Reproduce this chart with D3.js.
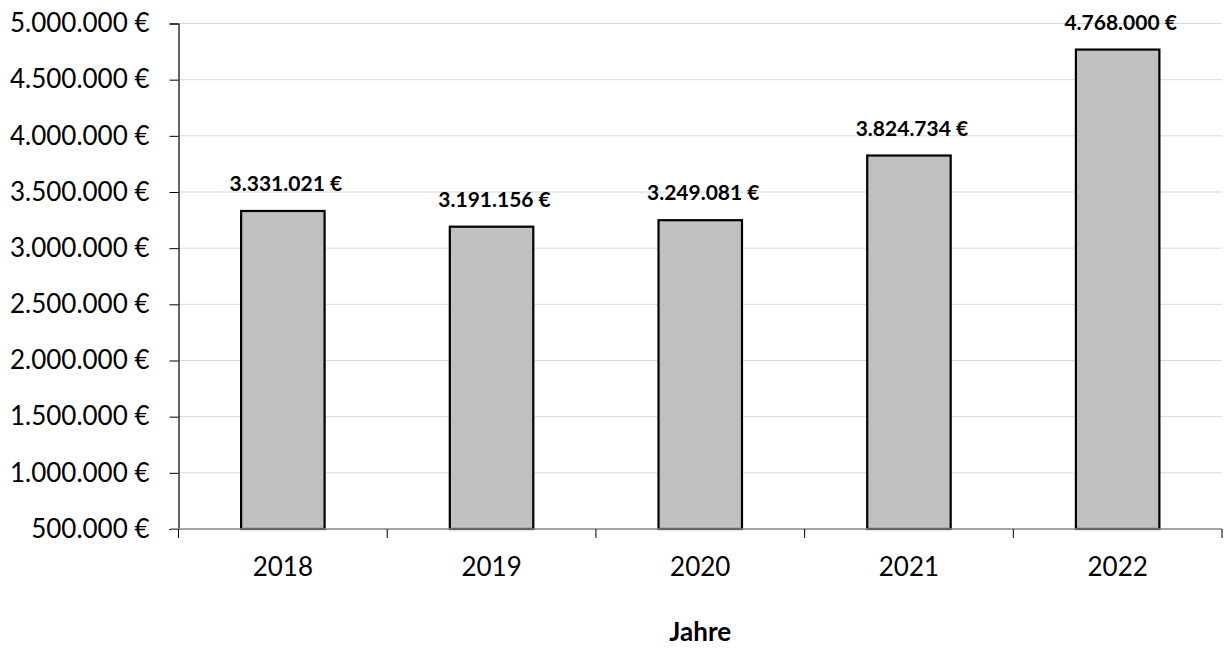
<!DOCTYPE html>
<html><head><meta charset="utf-8">
<script src="https://cdn.jsdelivr.net/npm/d3@7"></script>
<style>body{margin:0;background:#fff;} text{font-family:Lato,"Open Sans",sans-serif;}</style>
</head><body>
<svg id="c" width="1227" height="648"></svg>
<script>
const years = ["2018","2019","2020","2021","2022"];
const values = [3331021, 3191156, 3249081, 3824734, 4768000];
const yTicks = [500000,1000000,1500000,2000000,2500000,3000000,3500000,4000000,4500000,5000000];
const xTitle = "Jahre";

const svg = d3.select("#c");
const L = 178.5, R = 1222, T = 23.5, B = 529;
const fmt = v => d3.format(",")(v).replace(/,/g, ".") + " €";

const x = d3.scaleBand().domain(years).range([L, R]).paddingInner(0).paddingOuter(0);
const y = d3.scaleLinear().domain([500000, 5000000]).range([B, T]);

// gridlines
svg.append("g").selectAll("line").data(yTicks.slice(1)).join("line")
  .attr("x1", L).attr("x2", R).attr("y1", d => y(d)).attr("y2", d => y(d))
  .attr("stroke", "#d9d9d9").attr("stroke-width", 1);

// y axis
const ya = svg.append("g").attr("transform", `translate(${L},0)`)
  .call(d3.axisLeft(y).tickValues(yTicks).tickSize(9).tickPadding(20).tickFormat(fmt));
ya.select(".domain").attr("stroke", "#000").attr("stroke-width", 1.2);
ya.selectAll(".tick line").attr("stroke", "#000");
ya.selectAll("text").attr("font-size", 26).attr("fill", "#000").attr("font-family", "Lato");

// bars
const bw = x.bandwidth() * 0.4;
svg.append("g").selectAll("rect").data(values).join("rect")
  .attr("x", (d, i) => x(years[i]) + x.bandwidth() / 2 - bw / 2)
  .attr("width", bw)
  .attr("y", d => y(d))
  .attr("height", d => B - y(d))
  .attr("fill", "#c0c0c0").attr("stroke", "#000").attr("stroke-width", 2.2);

// x axis
const xa = svg.append("g").attr("transform", `translate(0,${B})`)
  .call(d3.axisBottom(x).tickSize(0).tickPadding(29));
xa.select(".domain").remove();
svg.append("line").attr("x1", L - 8).attr("x2", R).attr("y1", B).attr("y2", B)
  .attr("stroke", "#868686").attr("stroke-width", 1.5);
const bounds = years.map(d => x(d)).concat([R]);
svg.append("g").selectAll("line").data(bounds).join("line")
  .attr("x1", d => d).attr("x2", d => d).attr("y1", B).attr("y2", B + 9)
  .attr("stroke", "#000").attr("stroke-width", 1);
xa.selectAll("text").attr("font-size", 26).attr("fill", "#000").attr("font-family", "Lato");

// data labels
svg.append("g").selectAll("text").data(values).join("text")
  .attr("x", (d, i) => x(years[i]) + x.bandwidth() / 2 + 3)
  .attr("y", d => y(d) - 20)
  .attr("text-anchor", "middle").attr("font-size", 21).attr("font-weight", "bold")
  .text(d => fmt(d));

// x title
svg.append("text").attr("x", (L + R) / 2).attr("y", 641)
  .attr("text-anchor", "middle").attr("font-size", 26).attr("font-weight", "bold")
  .text(xTitle);
</script>
</body></html>
